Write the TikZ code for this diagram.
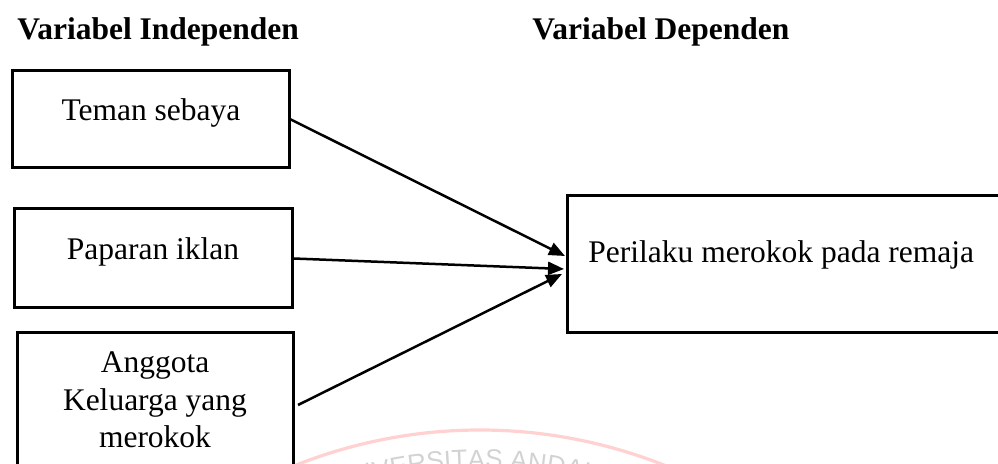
\documentclass[tikz,border=0pt]{standalone}
\usepackage{fontspec}
\setmainfont{Liberation Serif}
\usetikzlibrary{arrows.meta,fit,decorations.text}

\begin{document}
\begin{tikzpicture}[x=0.5pt,y=-0.5pt,
  box/.style={draw=black,line width=1.5pt,inner sep=0pt},
  lbl/.style={font=\fontsize{15.75pt}{18.75pt}\selectfont,inner sep=0pt,anchor=base},
  head/.style={font=\fontsize{15.75pt}{18.75pt}\selectfont\bfseries,inner sep=0pt,anchor=base west},
  conn/.style={line width=1.25pt,-{Triangle[length=8pt,width=6.5pt]}},
  wmarc/.style={line width=1.6pt,draw=red!18}]
\useasboundingbox (0,0) rectangle (998,464);
\begin{scope}
\clip (0,0) rectangle (998,464);

% faint seal in the background
\draw[wmarc] (480,930) ++(248:500) arc[start angle=248, end angle=292, radius=500];
\path[decorate,decoration={text along path,text align=center,
  text={|\fontspec{Liberation Sans}\fontsize{13pt}{13pt}\selectfont\color{gray!35}|UNIVERSITAS ANDALAS}}]
  (480,930) ++(250:462) arc[start angle=250, end angle=290, radius=462];

% headings
\node[head] (hind) at (17,40) {Variabel Independen};
\node[head] (hdep) at (532,40) {Variabel Dependen};

% independent variables
\node[box,fit={(12.7,70.7) (289,168)}] (b1) {};
\node[lbl] (t1) at (151,121) {Teman sebaya};

\node[box,fit={(14,209) (292,308)}] (b2) {};
\node[lbl] (t2) at (153,260) {Paparan iklan};

\node[box,fit={(17,333) (293,470)}] (b3) {};
\node[lbl,anchor=center,align=center] (t3) at (155,400)
  {Anggota\\Keluarga yang\\merokok};

% dependent variable
\node[box,fit={(567,196) (1010,333)}] (dep) {};
\node[lbl,anchor=base west] (t4) at (588,263) {Perilaku merokok pada remaja};

% arrow end points on the dependent box
\coordinate (e1) at (565,256);
\coordinate (e2) at (564,269);
\coordinate (e3) at (562,274);
\coordinate (s3) at (298,405);

\draw[conn] (b1.east) -- (e1);
\draw[conn] (b2.east) -- (e2);
\draw[conn] (s3) -- (e3);
\end{scope}
\end{tikzpicture}
\end{document}
